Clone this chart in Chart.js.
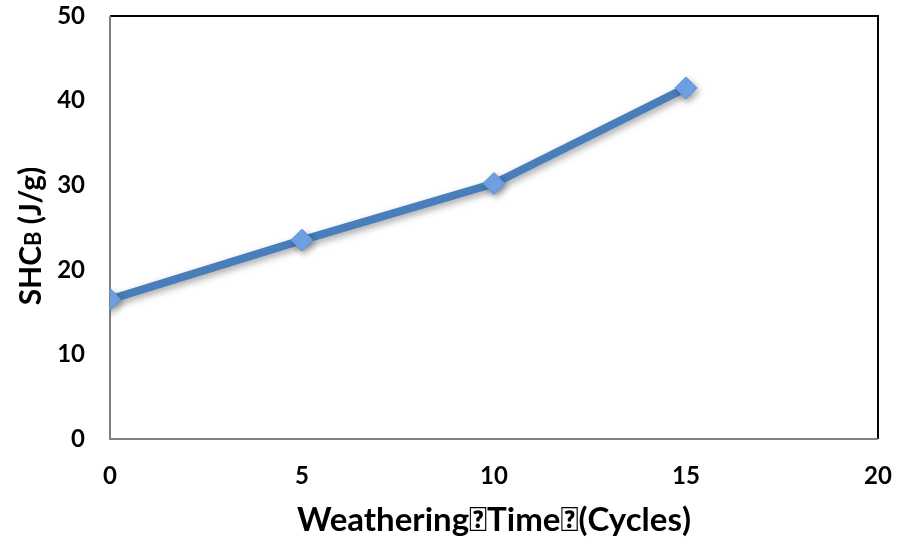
<!DOCTYPE html>
<html>
<head>
<meta charset="utf-8">
<script src="https://cdn.jsdelivr.net/npm/chart.js@4"></script>
<style>
  html, body { margin: 0; padding: 0; background: #fff; }
  #wrap { width: 897px; height: 543px; position: relative; }
</style>
</head>
<body>
<div id="wrap"><canvas id="c" width="897" height="543"></canvas></div>
<script>
// Weathering cycles vs. specific heat capacity
const cycles = [0, 5, 10, 15];
const shcValues = [16.5, 23.5, 30.2, 41.5];
const xTicks = [0, 5, 10, 15, 20];
const yTicks = [0, 10, 20, 30, 40, 50];
const xTitle = 'Weathering\uF020Time\uF020(Cycles)';
const yTitleParts = [['SHC', 30], ['B', 22], [' (J/g)', 30]];

const FONT = 'Lato, "Open Sans", sans-serif';

// Frame: gray left/bottom, black top/right
const framePlugin = {
  id: 'frame',
  beforeDatasetsDraw(chart) {
    const { ctx, chartArea: a } = chart;
    ctx.save();
    ctx.lineWidth = 2;
    ctx.strokeStyle = '#000';
    ctx.beginPath();
    ctx.moveTo(a.left, a.top); ctx.lineTo(a.right, a.top); ctx.lineTo(a.right, a.bottom);
    ctx.stroke();
    ctx.strokeStyle = '#808080';
    ctx.beginPath();
    ctx.moveTo(a.left, a.top); ctx.lineTo(a.left, a.bottom); ctx.lineTo(a.right, a.bottom);
    ctx.stroke();
    ctx.restore();
  }
};

// Soft drop shadow under the series
const shadowPlugin = {
  id: 'softShadow',
  beforeDatasetDraw(chart) {
    const ctx = chart.ctx;
    ctx.save();
    ctx.shadowColor = 'rgba(0,0,0,0.35)';
    ctx.shadowBlur = 7;
    ctx.shadowOffsetX = 2;
    ctx.shadowOffsetY = 3;
  },
  afterDatasetDraw(chart) {
    chart.ctx.restore();
  }
};

// Axis titles (y title has a subscript B)
const titlePlugin = {
  id: 'axisTitles',
  afterDraw(chart) {
    const { ctx, chartArea: a } = chart;
    ctx.save();
    ctx.fillStyle = '#000';
    ctx.font = 'bold 33px ' + FONT;
    ctx.textAlign = 'center';
    ctx.textBaseline = 'middle';
    ctx.fillText(xTitle, (a.left + a.right) / 2, 520);

    // vertical title
    ctx.translate(30, 236);
    ctx.rotate(-Math.PI / 2);
    let total = 0;
    yTitleParts.forEach(([t, s]) => { ctx.font = 'bold ' + s + 'px ' + FONT; total += ctx.measureText(t).width; });
    let x = -total / 2;
    ctx.textAlign = 'left';
    ctx.textBaseline = 'alphabetic';
    yTitleParts.forEach(([t, s]) => {
      ctx.font = 'bold ' + s + 'px ' + FONT;
      ctx.fillText(t, x, 11);
      x += ctx.measureText(t).width;
    });
    ctx.restore();
  }
};

new Chart(document.getElementById('c'), {
  type: 'line',
  data: {
    datasets: [{
      data: cycles.map((c, i) => ({ x: c, y: shcValues[i] })),
      borderColor: '#4a7ebb',
      borderWidth: 8,
      pointStyle: 'rectRot',
      pointRadius: 11,
      pointBackgroundColor: '#72a3e6',
      pointBorderColor: '#5b8fd6',
      pointBorderWidth: 1,
      tension: 0
    }]
  },
  options: {
    responsive: false,
    animation: false,
    layout: { padding: { top: 16, right: 19, left: 0, bottom: 0 } },
    plugins: { legend: { display: false }, tooltip: { enabled: false } },
    scales: {
      x: {
        type: 'linear',
        min: 0, max: 20,
        afterBuildTicks(s) { s.ticks = xTicks.map(v => ({ value: v })); },
        afterFit(s) { s.height = 104; s.paddingLeft = 0; s.paddingRight = 0; },
        grid: { display: false, drawTicks: false },
        border: { display: false },
        ticks: { color: '#000', padding: 23, font: { family: FONT, size: 24, weight: 'bold' } }
      },
      y: {
        min: 0, max: 50,
        afterBuildTicks(s) { s.ticks = yTicks.map(v => ({ value: v })); },
        afterFit(s) { s.width = 110; s.paddingTop = 0; s.paddingBottom = 0; },
        grid: { display: false, drawTicks: false },
        border: { display: false },
        ticks: { color: '#000', padding: 25, font: { family: FONT, size: 24, weight: 'bold' } }
      }
    }
  },
  plugins: [framePlugin, shadowPlugin, titlePlugin]
});
</script>
</body>
</html>
